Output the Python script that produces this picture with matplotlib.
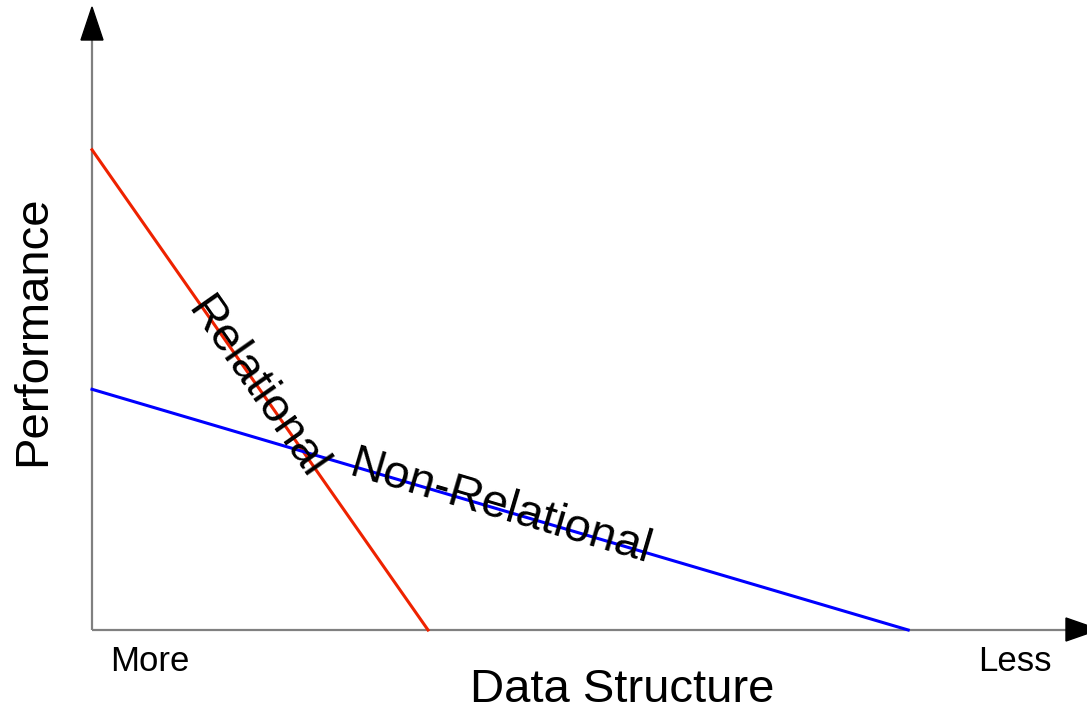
import matplotlib
matplotlib.use('Agg')
import matplotlib.pyplot as plt
from matplotlib.patches import Polygon
import numpy as np

plt.rcParams['font.family'] = ['Liberation Sans', 'DejaVu Sans']

# data structure (0 = more, 100 = less) vs performance
relational_x = [0, 34.5]
relational_y = [81.4, 0]
nonrel_x = [0, 83.8]
nonrel_y = [40.8, 0]

W, H = 1087, 712
fig = plt.figure(figsize=(W / 100, H / 100), dpi=100)
ax = fig.add_axes([92 / W, (H - 630) / H, (1066 - 92) / W, (630 - 40) / H])
ax.set_xlim(0, 100)
ax.set_ylim(0, 100)
for s in ax.spines.values():
    s.set_visible(False)
ax.set_xticks([])
ax.set_yticks([])

# axis lines
ax.plot([0, 100], [0, 0], color='#808080', lw=1.6, clip_on=False, solid_capstyle='butt')
ax.plot([0, 0], [0, 100], color='#808080', lw=1.6, clip_on=False, solid_capstyle='butt')

# arrow heads (figure pixels)
def px(x, y):
    return (x / W, (H - y) / H)

fig.patches.append(Polygon([px(92, 7), px(81, 40), px(103, 40)], closed=True,
                           transform=fig.transFigure, color='black'))
fig.patches.append(Polygon([px(1099, 629.5), px(1066, 618), px(1066, 641)], closed=True,
                           transform=fig.transFigure, color='black'))

ax.plot(relational_x, relational_y, color='#ee2200', lw=2.2, clip_on=False)
ax.plot(nonrel_x, nonrel_y, color='#0000ff', lw=2.2, clip_on=False)


def angle_of(xs, ys):
    p = ax.transData.transform(np.column_stack([xs, ys]))
    d = p[1] - p[0]
    return np.degrees(np.arctan2(d[1], d[0]))


ax.text(16.8, 41.0, 'Relational', fontsize=34, rotation=angle_of(relational_x, relational_y),
        rotation_mode='anchor', ha='center', va='center')
ax.text(41.9, 20.7, 'Non-Relational', fontsize=34, rotation=angle_of(nonrel_x, nonrel_y),
        rotation_mode='anchor', ha='center', va='center')

ax.text(5.95, -5.4, 'More', fontsize=25, ha='center', va='center', clip_on=False)
ax.text(94.8, -5.4, 'Less', fontsize=25, ha='center', va='center', clip_on=False)
ax.text(54.4, -10.2, 'Data Structure', fontsize=34, ha='center', va='center', clip_on=False)
ax.text(-6.06, 50.8, 'Performance', fontsize=34, rotation=90, ha='center', va='center', clip_on=False)

fig.savefig('out.png', dpi=100)
